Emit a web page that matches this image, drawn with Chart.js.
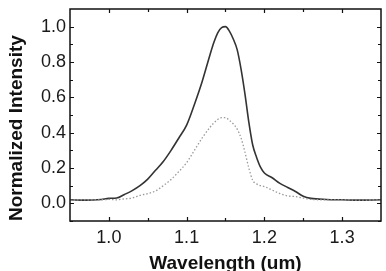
<!DOCTYPE html>
<html>
<head>
<meta charset="UTF-8">
<title>Normalized Intensity</title>
<script src="https://cdn.jsdelivr.net/npm/chart.js"></script>
<style>
  html, body { margin: 0; padding: 0; background: #fff; }
  #wrap { width: 386px; height: 271px; }
</style>
</head>
<body>
<div id="wrap"><canvas id="spec"></canvas></div>
<script>
// wavelength (um)
const wavelength = [0.95, 0.97, 0.99, 1.00, 1.01, 1.02, 1.03, 1.04, 1.05, 1.06, 1.07, 1.08, 1.09, 1.10,
  1.11, 1.12, 1.13, 1.135, 1.14, 1.145, 1.15, 1.155, 1.16, 1.165, 1.17, 1.175, 1.18, 1.185, 1.19,
  1.195, 1.20, 1.21, 1.22, 1.23, 1.24, 1.25, 1.26, 1.28, 1.30, 1.32, 1.35];
// solid curve
const solid = [0.020, 0.018, 0.022, 0.028, 0.030, 0.050, 0.072, 0.100, 0.137, 0.187, 0.237, 0.300, 0.370, 0.443,
  0.560, 0.690, 0.840, 0.910, 0.965, 0.995, 1.000, 0.975, 0.930, 0.870, 0.760, 0.620, 0.460, 0.330, 0.260,
  0.205, 0.172, 0.145, 0.113, 0.090, 0.067, 0.040, 0.028, 0.022, 0.020, 0.018, 0.020];
// dotted curve
const dotted = [0.018, 0.020, 0.020, 0.022, 0.020, 0.025, 0.030, 0.045, 0.055, 0.070, 0.100, 0.135, 0.180, 0.230,
  0.300, 0.370, 0.430, 0.455, 0.475, 0.485, 0.485, 0.470, 0.450, 0.420, 0.370, 0.290, 0.200, 0.130, 0.110,
  0.100, 0.095, 0.075, 0.055, 0.042, 0.038, 0.030, 0.022, 0.020, 0.020, 0.018, 0.020];

const xTicks = [1.0, 1.1, 1.2, 1.3];
const yTicks = [0.0, 0.2, 0.4, 0.6, 0.8, 1.0];
const xMinor = [1.05, 1.15, 1.25];
const yMinor = [-0.1, 0.1, 0.3, 0.5, 0.7, 0.9];

const toPts = (ys) => wavelength.map((x, i) => ({ x: x, y: ys[i] }));

// inward ticks + frame
const frame = {
  id: 'frame',
  afterDraw(chart) {
    const { ctx, chartArea: a, scales: { x, y } } = chart;
    ctx.save();
    ctx.strokeStyle = '#111';
    ctx.lineWidth = 1.2;
    const tick = (vals, len) => {
      vals.forEach(v => {
        const px = Math.round(x.getPixelForValue(v)) + 0.5;
        ctx.beginPath();
        ctx.moveTo(px, a.bottom); ctx.lineTo(px, a.bottom - len);
        ctx.moveTo(px, a.top); ctx.lineTo(px, a.top + len);
        ctx.stroke();
      });
    };
    const tickY = (vals, len) => {
      vals.forEach(v => {
        const py = Math.round(y.getPixelForValue(v)) + 0.5;
        ctx.beginPath();
        ctx.moveTo(a.left, py); ctx.lineTo(a.left + len, py);
        ctx.moveTo(a.right, py); ctx.lineTo(a.right - len, py);
        ctx.stroke();
      });
    };
    tick(xTicks, 4); tick(xMinor, 3);
    tickY(yTicks, 4); tickY(yMinor, 3);
    ctx.lineWidth = 1.5;
    ctx.strokeRect(a.left, a.top, a.right - a.left, a.bottom - a.top);
    ctx.restore();
  }
};

new Chart(document.getElementById('spec'), {
  type: 'scatter',
  data: {
    datasets: [
      {
        data: toPts(dotted),
        showLine: true,
        borderColor: '#9a9a9a',
        borderWidth: 1.3,
        borderDash: [1.5, 2],
        pointRadius: 0,
        cubicInterpolationMode: 'monotone'
      },
      {
        data: toPts(solid),
        showLine: true,
        borderColor: '#333',
        borderWidth: 1.6,
        pointRadius: 0,
        cubicInterpolationMode: 'monotone'
      }
    ]
  },
  options: {
    responsive: true,
    maintainAspectRatio: false,
    animation: false,
    layout: { padding: { top: 9, right: 5, left: 0, bottom: 0 } },
    plugins: { legend: { display: false }, tooltip: { enabled: false } },
    scales: {
      x: {
        type: 'linear',
        min: 0.95,
        max: 1.35,
        afterBuildTicks: (s) => { s.ticks = xTicks.map(v => ({ value: v })); },
        afterFit: (s) => { s.height = 50; s.paddingLeft = 0; s.paddingRight = 0; },
        grid: { display: false, drawTicks: false },
        border: { display: false },
        ticks: {
          padding: 6,
          color: '#1a1a1a',
          font: { family: 'Liberation Sans, Arial', size: 18 },
          callback: (v) => v.toFixed(1)
        },
        title: {
          display: true,
          text: 'Wavelength (um)',
          color: '#111',
          font: { family: 'Liberation Sans, Arial', size: 19, weight: 'bold', lineHeight: 1 },
          padding: { top: 0, bottom: -2.5 }
        }
      },
      y: {
        min: -0.1,
        max: 1.1,
        afterBuildTicks: (s) => { s.ticks = yTicks.map(v => ({ value: v })); },
        afterFit: (s) => { s.width = 70; s.paddingTop = 0; s.paddingBottom = 0; },
        grid: { display: false, drawTicks: false },
        border: { display: false },
        ticks: {
          padding: 4,
          color: '#1a1a1a',
          font: { family: 'Liberation Sans, Arial', size: 18 },
          callback: (v) => v.toFixed(1)
        },
        title: {
          display: true,
          text: 'Normalized Intensity',
          align: 'start',
          color: '#111',
          font: { family: 'Liberation Sans, Arial', size: 19, weight: 'bold', lineHeight: 1 },
          padding: { top: 7.5, bottom: 0 }
        }
      }
    }
  },
  plugins: [frame]
});
</script>
</body>
</html>
